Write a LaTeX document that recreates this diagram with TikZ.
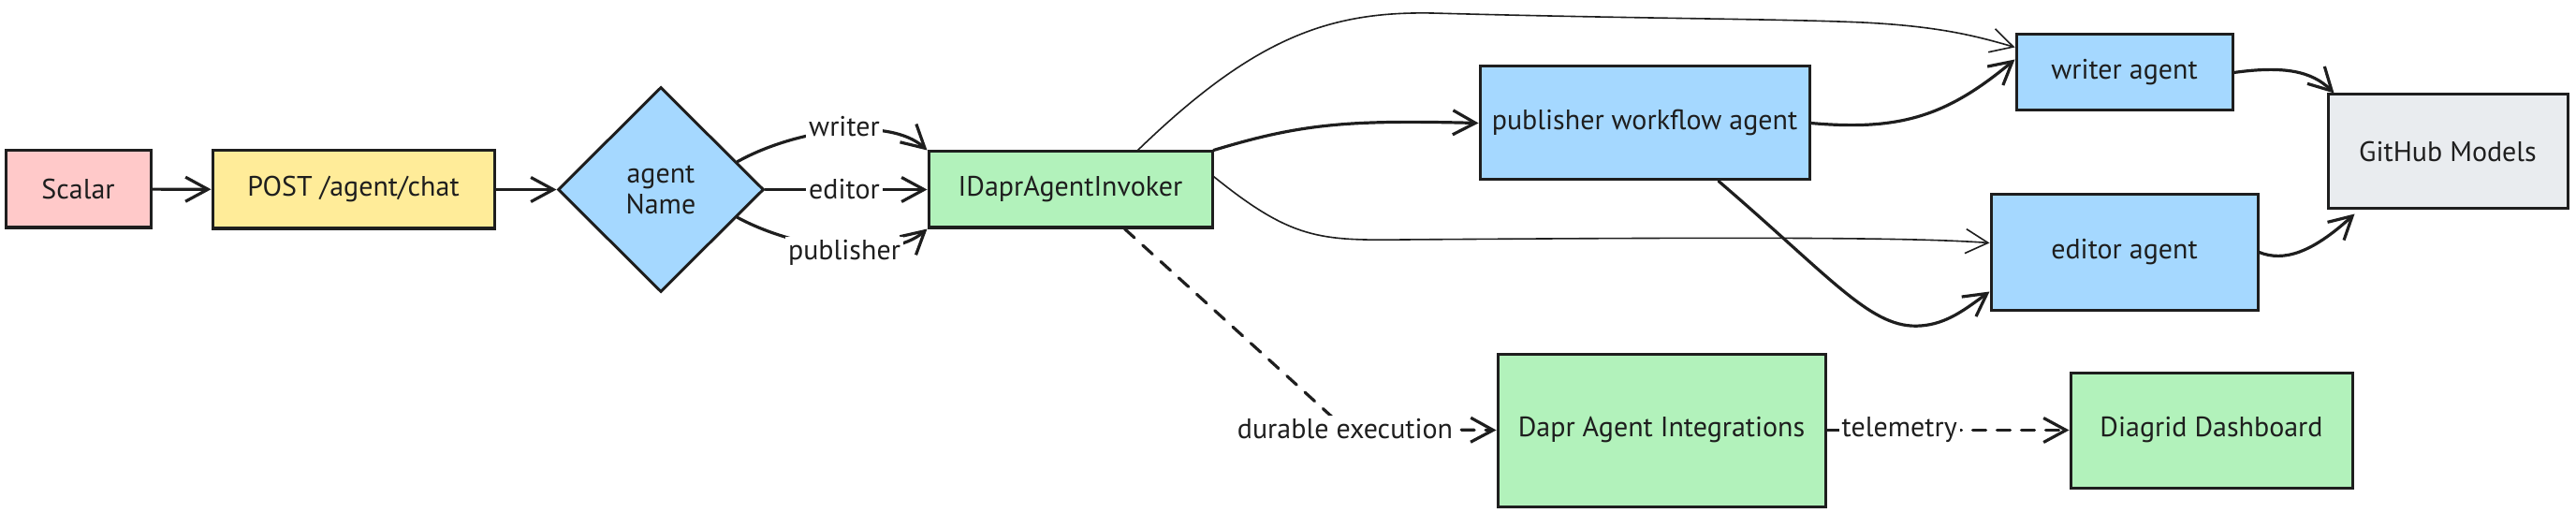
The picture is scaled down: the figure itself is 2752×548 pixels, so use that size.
\documentclass[tikz,border=0pt]{standalone}
\usepackage{fontspec}
\setmainfont{PT Sans}
\usetikzlibrary{shapes.geometric,arrows.meta,calc}
\definecolor{ink}{HTML}{1E1E1E}
\definecolor{cpink}{HTML}{FFC9C9}
\definecolor{cyel}{HTML}{FFEC99}
\definecolor{cblue}{HTML}{A5D8FF}
\definecolor{cgreen}{HTML}{B2F2BB}
\definecolor{cgray}{HTML}{E9ECEF}
\begin{document}
\begin{tikzpicture}[x=1pt,y=-1pt,
  font=\fontsize{30}{33}\selectfont,
  box/.style={draw=ink, line width=3pt, inner sep=0pt, align=center, text=ink},
  lbl/.style={fill=white, inner sep=3pt, text=ink},
  arr/.style={draw=ink, line width=3.2pt, line cap=round, -{Straight Barb[length=24pt,width=26pt]}},
  thinarr/.style={draw=ink, line width=1.6pt, line cap=round, -{Straight Barb[length=24pt,width=26pt]}},
  dasharr/.style={arr, dash pattern=on 14pt off 12pt},
]
\useasboundingbox (0,0) rectangle (2752,548);
\fill[white] (0,0) rectangle (2752,548);

\node[box, fill=cpink, minimum width=155pt, minimum height=82pt] (sc) at (83.5,202) {Scalar};
\node[box, fill=cyel, minimum width=301pt, minimum height=83pt] (post) at (377.5,202.5) {POST /agent/chat};
\node[box, fill=cblue, shape=diamond, minimum width=220pt, minimum height=219pt] (d) at (706,202.5) {agent\\Name};
\node[box, fill=cgreen, minimum width=303pt, minimum height=81pt] (ida) at (1143.5,202.5) {IDaprAgentInvoker};
\node[box, fill=cblue, minimum width=352pt, minimum height=121pt] (pwa) at (1757,131.5) {publisher workflow agent};
\node[box, fill=cblue, minimum width=231pt, minimum height=81pt] (wa) at (2269.5,77.5) {writer agent};
\node[box, fill=cblue, minimum width=285pt, minimum height=123pt] (ea) at (2269.5,269.5) {editor agent};
\node[box, fill=cgray, minimum width=256pt, minimum height=122pt] (gh) at (2615,162) {GitHub Models};
\node[box, fill=cgreen, minimum width=350pt, minimum height=163pt] (dai) at (1775,459.5) {Dapr Agent Integrations};
\node[box, fill=cgreen, minimum width=301pt, minimum height=123pt] (dd) at (2362.5,459.5) {Diagrid Dashboard};

% main flow
\draw[arr] (sc) -- (post);
\draw[arr] (post) -- (d);
\draw[arr] (d.20) .. controls (850,138) and (950,124) .. (ida.north west)
  node[lbl] at (902,135) {writer};
\draw[arr] (d.east) -- (ida.west)
  node[lbl] at (902,202) {editor};
\draw[arr] (d.-20) .. controls (850,266) and (950,280) .. (ida.south west)
  node[lbl] at (902,270) {publisher};

% from invoker
\draw[arr] (ida.north east) .. controls (1390,132) and (1440,128) .. (pwa.west);
\draw[thinarr] ([xshift=-81pt]ida.north east) .. controls (1340,40) and (1420,12) .. (1530,14)
  .. controls (1750,20) and (1900,20) .. (1990,24) .. controls (2070,28) and (2110,38) .. ([yshift=-15pt]wa.north west);
\draw[thinarr] ([yshift=-28pt]ida.north east) .. controls (1380,256) and (1410,257) .. (1500,256)
  .. controls (1900,253) and (2050,254) .. ([yshift=10pt]ea.west);

% from publisher workflow agent
\draw[arr] (pwa.east) .. controls (2030,140) and (2080,124) .. ([yshift=-28pt]wa.north west);
\draw[arr] ([xshift=79pt]pwa.south) .. controls (1960,300) and (2000,352) .. (2052,348)
  .. controls (2080,346) and (2100,330) .. ([yshift=-105pt]ea.north west);

% to GitHub Models
\draw[arr] (wa.east) .. controls (2440,70) and (2470,76) .. ([xshift=8pt]gh.north west);
\draw[arr] (ea.east) .. controls (2440,280) and (2470,270) .. ([xshift=30pt,yshift=-4pt]gh.south west);

% durable execution and telemetry
\draw[dasharr] ([xshift=58pt]ida.south) -- (1437,458) -- (dai.west)
  node[lbl] at (1437,458) {durable execution};
\draw[dasharr] (dai.east) -- (dd.west)
  node[lbl, pos=0.3] {telemetry};
\end{tikzpicture}
\end{document}
